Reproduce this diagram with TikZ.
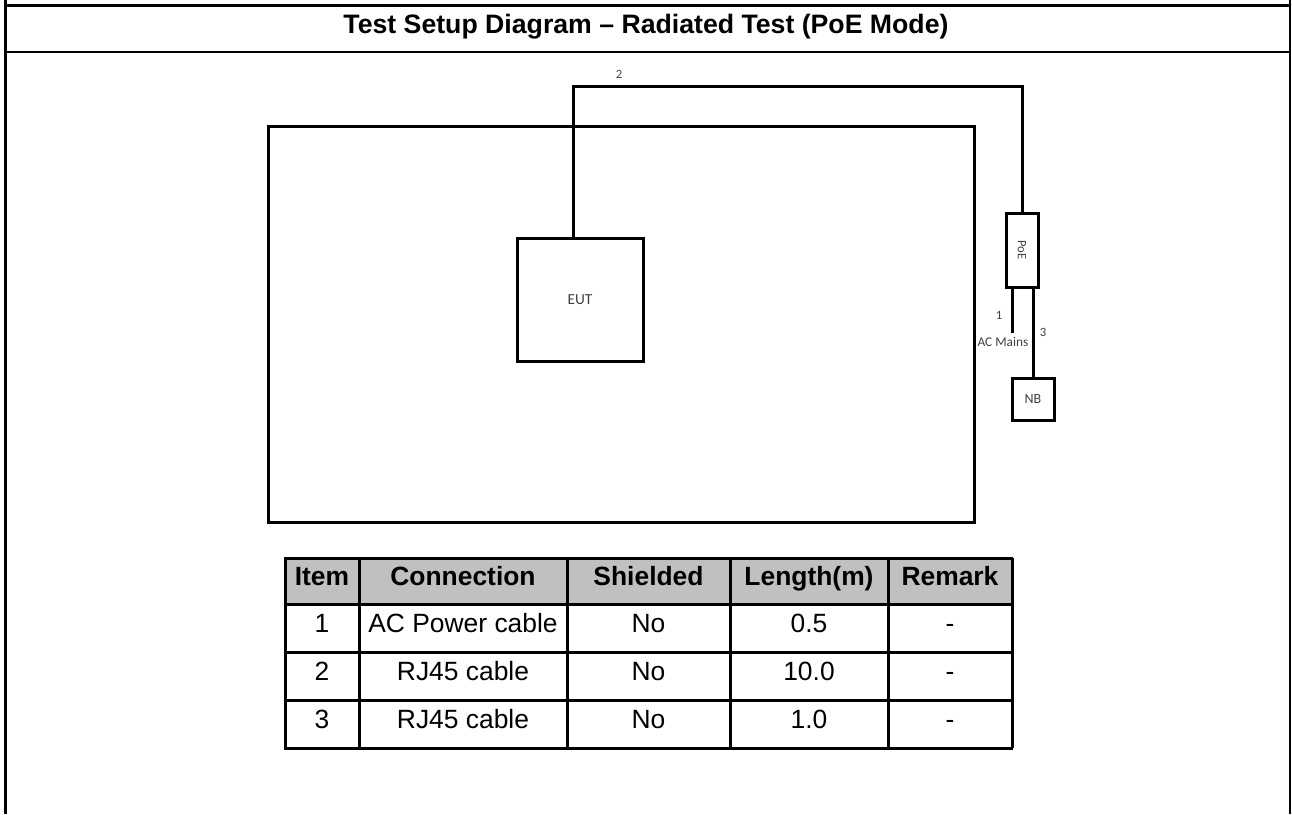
\documentclass[tikz,border=0pt]{standalone}
\usepackage{fontspec}
\setmainfont{Liberation Sans}
\newfontfamily\calfont{Carlito}
\definecolor{hdrgray}{HTML}{C0C0C0}
\definecolor{lbl}{HTML}{404040}
\begin{document}
\begin{tikzpicture}[x=0.75pt,y=-0.75pt,
  frame/.style={line width=2.25pt},
  cable/.style={line width=2.25pt},
  devbox/.style={draw, line width=2.25pt, inner sep=0pt, font=\calfont\fontsize{11.5}{13}\selectfont, text=lbl},
  lab/.style={font=\calfont\fontsize{9.5}{11}\selectfont, text=lbl, inner sep=0pt},
  cell/.style={font=\fontsize{19.8}{23}\selectfont, text height=0.716em, text depth=0pt, inner sep=0pt},
  hcell/.style={cell, font=\bfseries\fontsize{19.8}{23}\selectfont},
  grid/.style={line width=2.25pt}]
\useasboundingbox (0,0) rectangle (1292,814);
% outer frame
\draw[frame] (5.5,0) -- (5.5,814);
\draw[line width=1.5pt] (1289.5,0) -- (1289.5,814);
\draw[frame] (4,5) -- (1291,5);
\draw[line width=1.9pt] (4,52) -- (1291,52);
\node[font=\bfseries\fontsize{20}{24}\selectfont, text height=0.716em, text depth=0pt, inner sep=0pt] (title) at (646,29) {Test Setup Diagram – Radiated Test (PoE Mode)};
% test area
\node[draw, line width=2.25pt, minimum width=529.5pt, minimum height=297pt, inner sep=0pt] (area) at (621,324) {};
% devices
\node[devbox, minimum width=94.5pt, minimum height=92.25pt] (eut) at (580,299.5) {EUT};
\node[devbox, minimum width=24pt, minimum height=55.5pt, font=\calfont\fontsize{9.5}{11}\selectfont] (poe) at (1022,250) {\rotatebox{-90}{PoE}};
\node[devbox, minimum width=31.5pt, minimum height=31.5pt, font=\calfont\fontsize{10.5}{12}\selectfont] (nb) at (1033,399) {NB};
% cables
\coordinate (c2top) at (573,86);
\coordinate (acend) at (1012,333);
\draw[cable] (eut.north -| c2top) -- (c2top) -| (poe.north);
\draw[cable] (poe.south -| acend) -- (acend);
\draw[cable] (poe.south -| nb.north) -- (nb.north);
% cable labels
\node[lab] (l2) at (619,74) {2};
\node[lab] (l1) at (999,315) {1};
\node[lab, font=\calfont\fontsize{10}{12}\selectfont] (lac) at (1003,342) {AC Mains};
\node[lab] (l3) at (1043,332) {3};
% table
\fill[hdrgray] (285,558) rectangle (1012,604);
\foreach \yy in {558,604,652,700,748} {\draw[grid] (283.9,\yy) -- (1013.1,\yy);}
\foreach \xx in {285,359,567,730,888,1012} {\draw[grid] (\xx,558) -- (\xx,748);}
\node[hcell] (h1) at (322,581) {Item};
\node[hcell] (h2) at (463,581) {Connection};
\node[hcell] (h3) at (648.5,581) {Shielded};
\node[hcell] (h4) at (809,581) {Length(m)};
\node[hcell] (h5) at (950,581) {Remark};
\node[cell] (a1) at (322,628) {1};
\node[cell] (a2) at (463,628) {AC Power cable};
\node[cell] (a3) at (648.5,628) {No};
\node[cell] (a4) at (809,628) {0.5};
\node[cell] (a5) at (950,628) {-};
\node[cell] (b1) at (322,676) {2};
\node[cell] (b2) at (463,676) {RJ45 cable};
\node[cell] (b3) at (648.5,676) {No};
\node[cell] (b4) at (809,676) {10.0};
\node[cell] (b5) at (950,676) {-};
\node[cell] (c1) at (322,724) {3};
\node[cell] (c2) at (463,724) {RJ45 cable};
\node[cell] (c3) at (648.5,724) {No};
\node[cell] (c4) at (809,724) {1.0};
\node[cell] (c5) at (950,724) {-};
\end{tikzpicture}
\end{document}
